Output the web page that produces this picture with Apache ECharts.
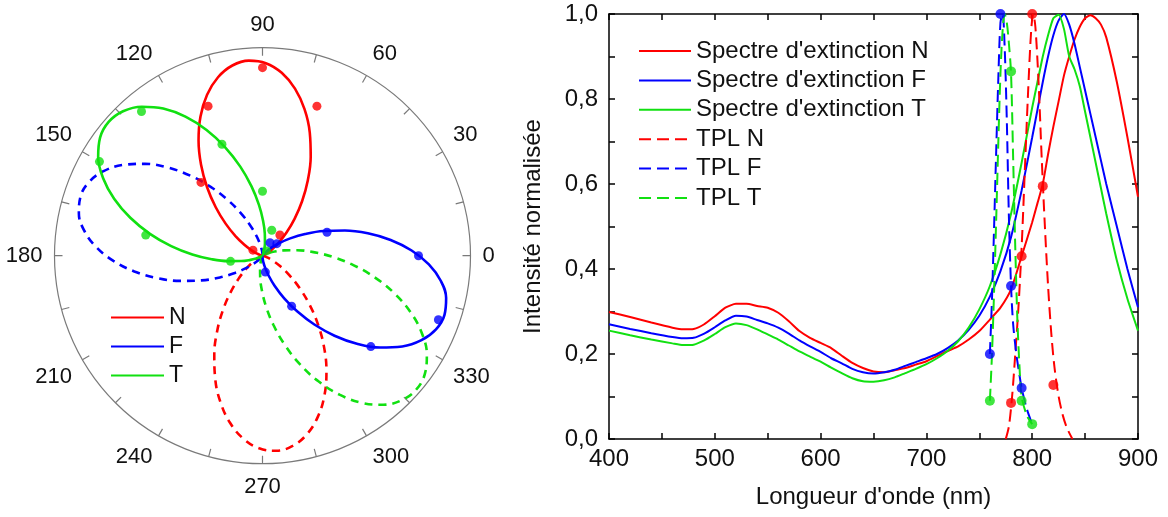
<!DOCTYPE html>
<html><head><meta charset="utf-8">
<script src="https://cdn.jsdelivr.net/npm/echarts@6/dist/echarts.min.js"></script>
<style>html,body{margin:0;padding:0;background:#fff}#c{width:1168px;height:517px}</style>
</head><body><div id="c"></div><script>
// ---------- Polar plot (left) ----------
const angleTicks = [0,30,60,90,120,150,180,210,240,270,300,330];
const lobeOffsets = [-90,-85,-80,-75,-70,-65,-60,-55,-50,-45,-40,-35,-30,-25,-20,-15,-10,-5,0,5,10,15,20,25,30,35,40,45,50,55,60,65,70,75,80,85,90];
const axisN = 94, axisF = 342, axisT = 139;          // solid lobe directions (deg)
const axisNd = 274, axisFd = 162, axisTd = 319;      // dashed lobe directions (deg)
const radN = [0,0.0001,0.0009,0.0042,0.0129,0.0300,0.0588,0.1017,0.1605,0.235,0.3237,0.4233,0.5288,0.6342,0.7329,0.8183,0.8842,0.9258,0.94,0.9258,0.8842,0.8183,0.7329,0.6342,0.5288,0.4233,0.3237,0.235,0.1605,0.1017,0.0588,0.0300,0.0129,0.0042,0.0009,0.0001,0];
const radF = [0,0.0001,0.0008,0.0041,0.0126,0.0293,0.0575,0.0996,0.1571,0.23,0.3168,0.4143,0.5175,0.6207,0.7173,0.8009,0.8654,0.9061,0.92,0.9061,0.8654,0.8009,0.7173,0.6207,0.5175,0.4143,0.3168,0.23,0.1571,0.0996,0.0575,0.0293,0.0126,0.0041,0.0008,0.0001,0];
const radT = [0,0.0001,0.0009,0.0044,0.0134,0.0313,0.0613,0.1061,0.1673,0.245,0.3375,0.4413,0.5513,0.6612,0.7641,0.8531,0.9218,0.9652,0.98,0.9652,0.9218,0.8531,0.7641,0.6612,0.5513,0.4413,0.3375,0.245,0.1673,0.1061,0.0613,0.0313,0.0134,0.0044,0.0009,0.0001,0];
// measured points [radius, angle]
const dotsN = [[0.13,50],[0.765,70],[0.904,90],[0.765,110],[0.46,130],[0.053,150]];
const dotsF = [[0.072,60],[0.09,40],[0.33,20],[0.75,0],[0.90,340],[0.68,320],[0.28,300],[0.08,280]];
const dotsT = [[0.03,50],[0.13,70],[0.31,90],[0.57,110],[0.905,130],[0.905,150],[0.57,170],[0.156,190]];

// ---------- Spectra (right) ----------
const lambda = [400,420,440,460,470,480,490,500,510,520,530,540,550,560,570,580,590,600,610,620,630,640,650,660,670,680,690,700,710,720,730,740,750,760,770,780,790,800,805,810,815,820,825,830,835,840,845,850,855,860,865,870,880,890,900];
const extN = [0.299,0.287,0.274,0.262,0.258,0.259,0.27,0.289,0.309,0.318,0.318,0.313,0.309,0.297,0.277,0.254,0.238,0.226,0.214,0.196,0.179,0.167,0.159,0.157,0.162,0.167,0.175,0.183,0.195,0.207,0.218,0.234,0.254,0.281,0.309,0.352,0.43,0.51,0.555,0.6,0.67,0.735,0.795,0.855,0.9,0.94,0.97,0.99,0.997,0.99,0.975,0.945,0.84,0.71,0.57];
const extF = [0.27,0.259,0.249,0.24,0.237,0.238,0.248,0.263,0.279,0.29,0.288,0.28,0.272,0.262,0.248,0.232,0.218,0.205,0.19,0.178,0.165,0.157,0.154,0.157,0.163,0.172,0.181,0.19,0.2,0.214,0.232,0.257,0.29,0.335,0.395,0.475,0.585,0.71,0.775,0.84,0.9,0.95,0.985,1.0,0.975,0.93,0.875,0.82,0.765,0.71,0.655,0.6,0.5,0.4,0.31];
const extT = [0.255,0.244,0.234,0.225,0.221,0.222,0.232,0.247,0.263,0.272,0.268,0.258,0.246,0.234,0.22,0.206,0.194,0.182,0.168,0.155,0.143,0.136,0.135,0.138,0.145,0.155,0.165,0.176,0.19,0.207,0.23,0.262,0.305,0.36,0.435,0.53,0.65,0.78,0.84,0.9,0.95,0.99,0.998,0.965,0.9,0.87,0.83,0.77,0.71,0.65,0.59,0.53,0.42,0.33,0.255];
const tplN = [[775,0],[778,0.03],[781,0.1],[784,0.2],[787,0.31],[790,0.45],[793,0.63],[796,0.81],[799,0.96],[801,1.0],[803,0.97],[806,0.84],[809,0.66],[812,0.5],[815,0.36],[818,0.25],[821,0.17],[825,0.1],[829,0.055],[833,0.025],[838,0]];
const tplF = [[760,0.2],[762,0.33],[764,0.5],[766,0.68],[768,0.85],[770,0.98],[772,1.0],[774,0.92],[776,0.75],[778,0.52],[780,0.36],[782,0.27],[785,0.2],[788,0.15],[790,0.12],[795,0.07],[800,0.035]];
const tplT = [[760,0.09],[762,0.2],[764,0.35],[766,0.52],[768,0.7],[770,0.86],[772,0.96],[774,1.0],[776,0.98],[778,0.93],[780,0.86],[782,0.66],[784,0.45],[786,0.28],[788,0.17],[790,0.1],[795,0.055],[800,0.035]];
const tplDotsN = [[780,0.085],[790,0.43],[800,1.0],[810,0.595],[820,0.127]];
const tplDotsF = [[760,0.2],[770,1.0],[780,0.36],[790,0.12]];
const tplDotsT = [[760,0.09],[780,0.865],[790,0.09],[800,0.035]];
const xTickLabels = [400,500,600,700,800,900];
const yTickLabels = ['0,0','0,2','0,4','0,6','0,8','1,0'];

const RED = '#ff0000', BLUE = '#0000ff', GREEN = '#11e011';
const FONT = '"Liberation Sans", Arial, sans-serif';

function norm(a){ return ((a % 360) + 360) % 360; }
function lobe(rad, ax){ return lobeOffsets.map((o,i)=>[rad[i], norm(ax+o)]); }
function pairs(xs, ys){ return xs.map((x,i)=>[x, ys[i]]); }

const chart = echarts.init(document.getElementById('c'), null, {renderer:'canvas'});

function polarLine(name, data, color, dashed){
  return {name, type:'line', coordinateSystem:'polar', polarIndex:0, data, symbol:'none', smooth:0.4,
    lineStyle:{color, width:2.6, type: dashed ? [8,6] : 'solid'}, itemStyle:{color}, z:2};
}
function polarDots(name, data, color){
  return {name, type:'scatter', coordinateSystem:'polar', polarIndex:0, data, symbol:'circle', symbolSize:9,
    itemStyle:{color}, z:3};
}
function specLine(name, data, color, dashed){
  return {name, type:'line', xAxisIndex:0, yAxisIndex:0, data, symbol:'none', smooth: dashed ? 0.3 : 0.2,
    lineStyle:{color, width:2, type: dashed ? [12,6] : 'solid'}, itemStyle:{color}, z:2};
}
function specDots(name, data, color){
  return {name, type:'scatter', xAxisIndex:0, yAxisIndex:0, data, symbol:'circle', symbolSize:10, clip:false,
    itemStyle:{color}, z:3};
}

const axBlack = {color:'#000', width:1.5};
const option = {
  animation:false,
  backgroundColor:'#fff',
  textStyle:{fontFamily:FONT},
  polar:{center:[262.5,255.7], radius:[0,208]},
  angleAxis:{type:'value', polarIndex:0, min:0, max:360, interval:15, startAngle:0, clockwise:false,
    axisLine:{lineStyle:{color:'#7a7a7a', width:1.2}},
    axisTick:{inside:true, length:8, lineStyle:{color:'#7a7a7a', width:1.2}},
    axisLabel:{margin:12, fontSize:22, color:'#111', fontFamily:FONT,
      formatter:v=> (angleTicks.indexOf(v) >= 0) ? String(v) : ''},
    splitLine:{show:false}},
  radiusAxis:{type:'value', polarIndex:0, min:0, max:1, show:false, splitLine:{show:false}, axisLine:{show:false}},
  grid:{left:609, top:14, width:529, height:425},
  xAxis:[
    {type:'value', position:'bottom', min:400, max:900, interval:50,
      axisLine:{onZero:false, lineStyle:axBlack},
      axisTick:{inside:true, length:6, lineStyle:axBlack},
      axisLabel:{fontSize:24, color:'#111', margin:8, fontFamily:FONT,
        formatter:v=> xTickLabels.indexOf(v) >= 0 ? String(v) : ''},
      splitLine:{show:false},
      name:"Longueur d'onde (nm)", nameLocation:'middle', nameGap:46,
      nameTextStyle:{fontSize:24, color:'#111', fontFamily:FONT}},
    {type:'value', position:'top', min:400, max:900, interval:50,
      axisLine:{onZero:false, lineStyle:axBlack},
      axisTick:{inside:true, length:6, lineStyle:axBlack},
      axisLabel:{show:false}, splitLine:{show:false}}
  ],
  yAxis:[
    {type:'value', position:'left', min:0, max:1, interval:0.1,
      axisLine:{onZero:false, lineStyle:axBlack},
      axisTick:{inside:true, length:6, lineStyle:axBlack},
      axisLabel:{fontSize:24, color:'#111', margin:11, fontFamily:FONT,
        formatter:v=>{ const k = Math.round(v*10); return k % 2 === 0 ? yTickLabels[k/2] : ''; }},
      splitLine:{show:false},
      name:'Intensité normalisée', nameLocation:'middle', nameGap:64,
      nameTextStyle:{fontSize:24, color:'#111', fontFamily:FONT}},
    {type:'value', position:'right', min:0, max:1, interval:0.1,
      axisLine:{onZero:false, lineStyle:axBlack},
      axisTick:{inside:true, length:6, lineStyle:axBlack},
      axisLabel:{show:false}, splitLine:{show:false}}
  ],
  legend:[
    {data:['N','F','T'], orient:'vertical', left:110, top:306, padding:0, itemWidth:53, itemHeight:14, itemGap:6,
      selectedMode:false, itemStyle:{opacity:0}, textStyle:{fontSize:23, color:'#111', fontFamily:FONT}},
    {data:["Spectre d'extinction N","Spectre d'extinction F","Spectre d'extinction T","TPL N","TPL F","TPL T"],
      orient:'vertical', left:638, top:39, padding:0, itemWidth:52, itemHeight:14, itemGap:5.4,
      selectedMode:false, itemStyle:{opacity:0}, textStyle:{fontSize:24, color:'#111', fontFamily:FONT}}
  ],
  series:[
    polarLine('Nd', lobe(radN, axisNd), RED, true),
    polarLine('Fd', lobe(radF, axisFd), BLUE, true),
    polarLine('Td', lobe(radT, axisTd), GREEN, true),
    polarLine('N', lobe(radN, axisN), RED, false),
    polarLine('F', lobe(radF, axisF), BLUE, false),
    polarLine('T', lobe(radT, axisT), GREEN, false),
    polarDots('N pts', dotsN, RED),
    polarDots('F pts', dotsF, BLUE),
    polarDots('T pts', dotsT, GREEN),
    specLine("Spectre d'extinction N", pairs(lambda, extN), RED, false),
    specLine("Spectre d'extinction F", pairs(lambda, extF), BLUE, false),
    specLine("Spectre d'extinction T", pairs(lambda, extT), GREEN, false),
    specLine('TPL N', tplN, RED, true),
    specLine('TPL F', tplF, BLUE, true),
    specLine('TPL T', tplT, GREEN, true),
    specDots('TPL N pts', tplDotsN, RED),
    specDots('TPL T pts', tplDotsT, GREEN),
    specDots('TPL F pts', tplDotsF, BLUE)
  ]
};
chart.setOption(option);
</script></body></html>
